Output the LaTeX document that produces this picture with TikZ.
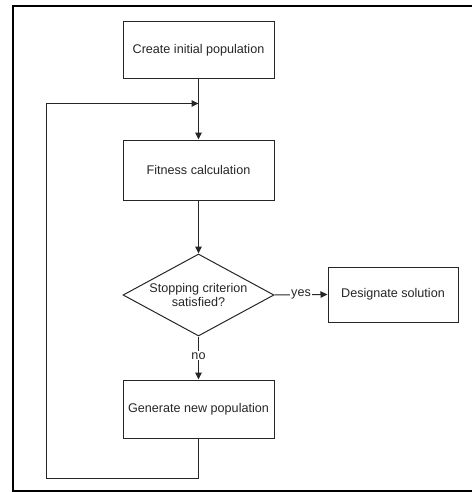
\documentclass[tikz,border=0pt]{standalone}
\usepackage{fontspec}
\setmainfont{Liberation Sans}
\usetikzlibrary{arrows.meta,shapes.geometric}
\begin{document}
\begin{tikzpicture}[x=1pt,y=-1pt,
  txt/.style={font=\fontsize{12.6}{14.5}\selectfont,text=black!85},
  box/.style={txt,draw=black!85,line width=1pt,minimum width=151pt,inner sep=0pt},
  dec/.style={txt,draw=black!85,line width=1pt,diamond,aspect=1.84,minimum width=151pt,minimum height=82pt,inner sep=0pt,align=center},
  conn/.style={draw=black!85,line width=1pt},
  arr/.style={conn,-{Triangle[length=7pt,width=6.5pt]}},
  lbl/.style={txt,fill=white,inner sep=1pt}]
\useasboundingbox (0,0) rectangle (471,492);
\draw[line width=1.6pt] (480,6) -- (13,6) -- (13,491) -- (480,491);
\node[box,minimum height=57pt] (init) at (198.5,50.5) {Create initial population};
\node[box,minimum height=60pt] (fit) at (198.5,170) {Fitness calculation};
\node[dec] (stop) at (198.5,295) {Stopping criterion\\satisfied?};
\node[box,minimum width=130pt,minimum height=55pt] (des) at (393,294.5) {Designate solution};
\node[box,minimum height=58pt] (gen) at (198.5,409) {Generate new population};
\coordinate (join) at (198.5,103.5);
\coordinate (bl) at (46.5,478.5);
\coordinate (tl) at (46.5,103.5);
\draw[arr] (init) -- (fit);
\draw[arr] (fit) -- (stop);
\draw[arr] (stop.east) -- node[lbl] {yes} (des.west);
\draw[arr] (stop.south) -- node[lbl,pos=0.45] {no} (gen.north);
\draw[arr] (gen.south) |- (bl) -- (tl) -- (join);
\end{tikzpicture}
\end{document}
